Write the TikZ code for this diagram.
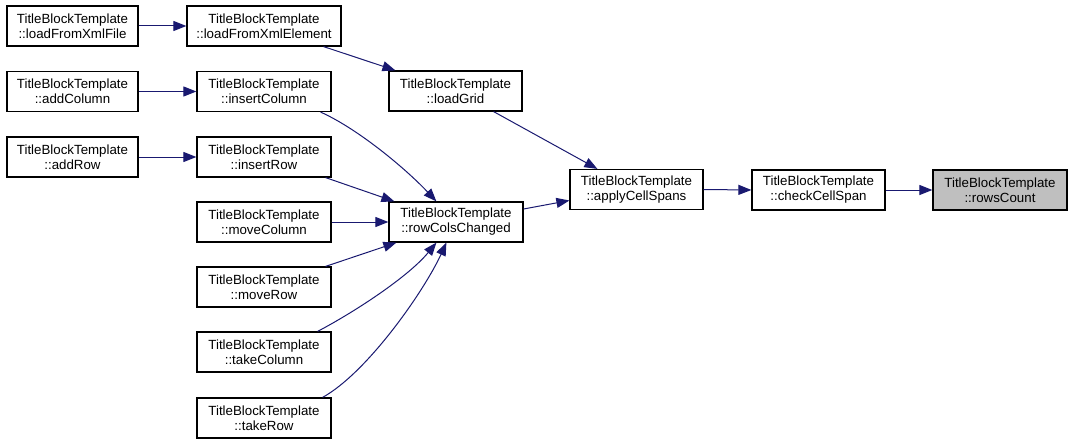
\documentclass[tikz,border=0pt]{standalone}
\usepackage{fontspec}
\setmainfont{Liberation Sans}
\usetikzlibrary{arrows.meta}
\definecolor{edgecol}{HTML}{191970}
\definecolor{hlfill}{HTML}{BFBFBF}
\tikzset{
  fn/.style={draw=black, line width=1.2pt, fill=white, minimum width=134pt, minimum height=40pt,
    inner xsep=2pt, inner ysep=2pt, align=center, font=\fontsize{13.3}{15}\selectfont},
  hl/.style={fn, fill=hlfill},
  call/.style={draw=edgecol, line width=1pt, -{Triangle[length=13pt,width=10pt]}},
}
\begin{document}
\begin{tikzpicture}[x=1pt,y=-1pt]
\useasboundingbox (0,0) rectangle (1072,444);
\node[fn, minimum width=131pt] (lfxf) at (72.5,26) {TitleBlockTemplate\\::loadFromXmlFile};
\node[fn, minimum width=154pt] (lfxe) at (264,26) {TitleBlockTemplate\\::loadFromXmlElement};
\node[fn, minimum width=131pt] (addc) at (72.5,91.5) {TitleBlockTemplate\\::addColumn};
\node[fn] (insc) at (264,91.5) {TitleBlockTemplate\\::insertColumn};
\node[fn, minimum width=133pt] (lgrid) at (455.5,91) {TitleBlockTemplate\\::loadGrid};
\node[fn, minimum width=131pt] (addr) at (72.5,157) {TitleBlockTemplate\\::addRow};
\node[fn] (insr) at (264,157) {TitleBlockTemplate\\::insertRow};
\node[fn] (movc) at (264,222) {TitleBlockTemplate\\::moveColumn};
\node[fn] (rcc) at (456,222) {TitleBlockTemplate\\::rowColsChanged};
\node[fn] (movr) at (264,287) {TitleBlockTemplate\\::moveRow};
\node[fn] (takc) at (264,352) {TitleBlockTemplate\\::takeColumn};
\node[fn] (takr) at (264,418) {TitleBlockTemplate\\::takeRow};
\node[fn, minimum width=133pt] (acs) at (636.5,189.5) {TitleBlockTemplate\\::applyCellSpans};
\node[fn, minimum width=133pt] (ccs) at (818.5,190) {TitleBlockTemplate\\::checkCellSpan};
\node[hl] (rc) at (1000,190) {TitleBlockTemplate\\::rowsCount};

\draw[call] (lfxf.east) -- (lfxe.west);
\draw[call] ([xshift=-18pt]lfxe.south east) -- ([xshift=7pt]lgrid.north west);
\draw[call] (addc.east) -- (insc.west);
\draw[call] (addr.east) -- (insr.west);
\draw[call] ([xshift=-11pt]insc.south east) .. controls +(38,17) and +(-30,-32) .. ([xshift=48pt]rcc.north west);
\draw[call] ([xshift=-6pt]insr.south east) -- ([xshift=6pt]rcc.north west);
\draw[call] (movc.east) -- (rcc.west);
\draw[call] ([xshift=-6pt]movr.north east) -- ([xshift=8pt]rcc.south west);
\draw[call] ([xshift=-14pt]takc.north east) .. controls +(38,-20) and +(-28,34) .. ([xshift=48pt]rcc.south west);
\draw[call] ([xshift=-9pt]takr.north east) .. controls +(45,-25) and +(-22,48) .. ([xshift=58pt]rcc.south west);
\draw[call] ([xshift=-29pt]lgrid.south east) -- ([xshift=28pt]acs.north west);
\draw[call] ([yshift=13pt]rcc.east) -- ([yshift=-11pt]acs.west);
\draw[call] (acs.east) -- (ccs.west);
\draw[call] (ccs.east) -- (rc.west);
\end{tikzpicture}
\end{document}
